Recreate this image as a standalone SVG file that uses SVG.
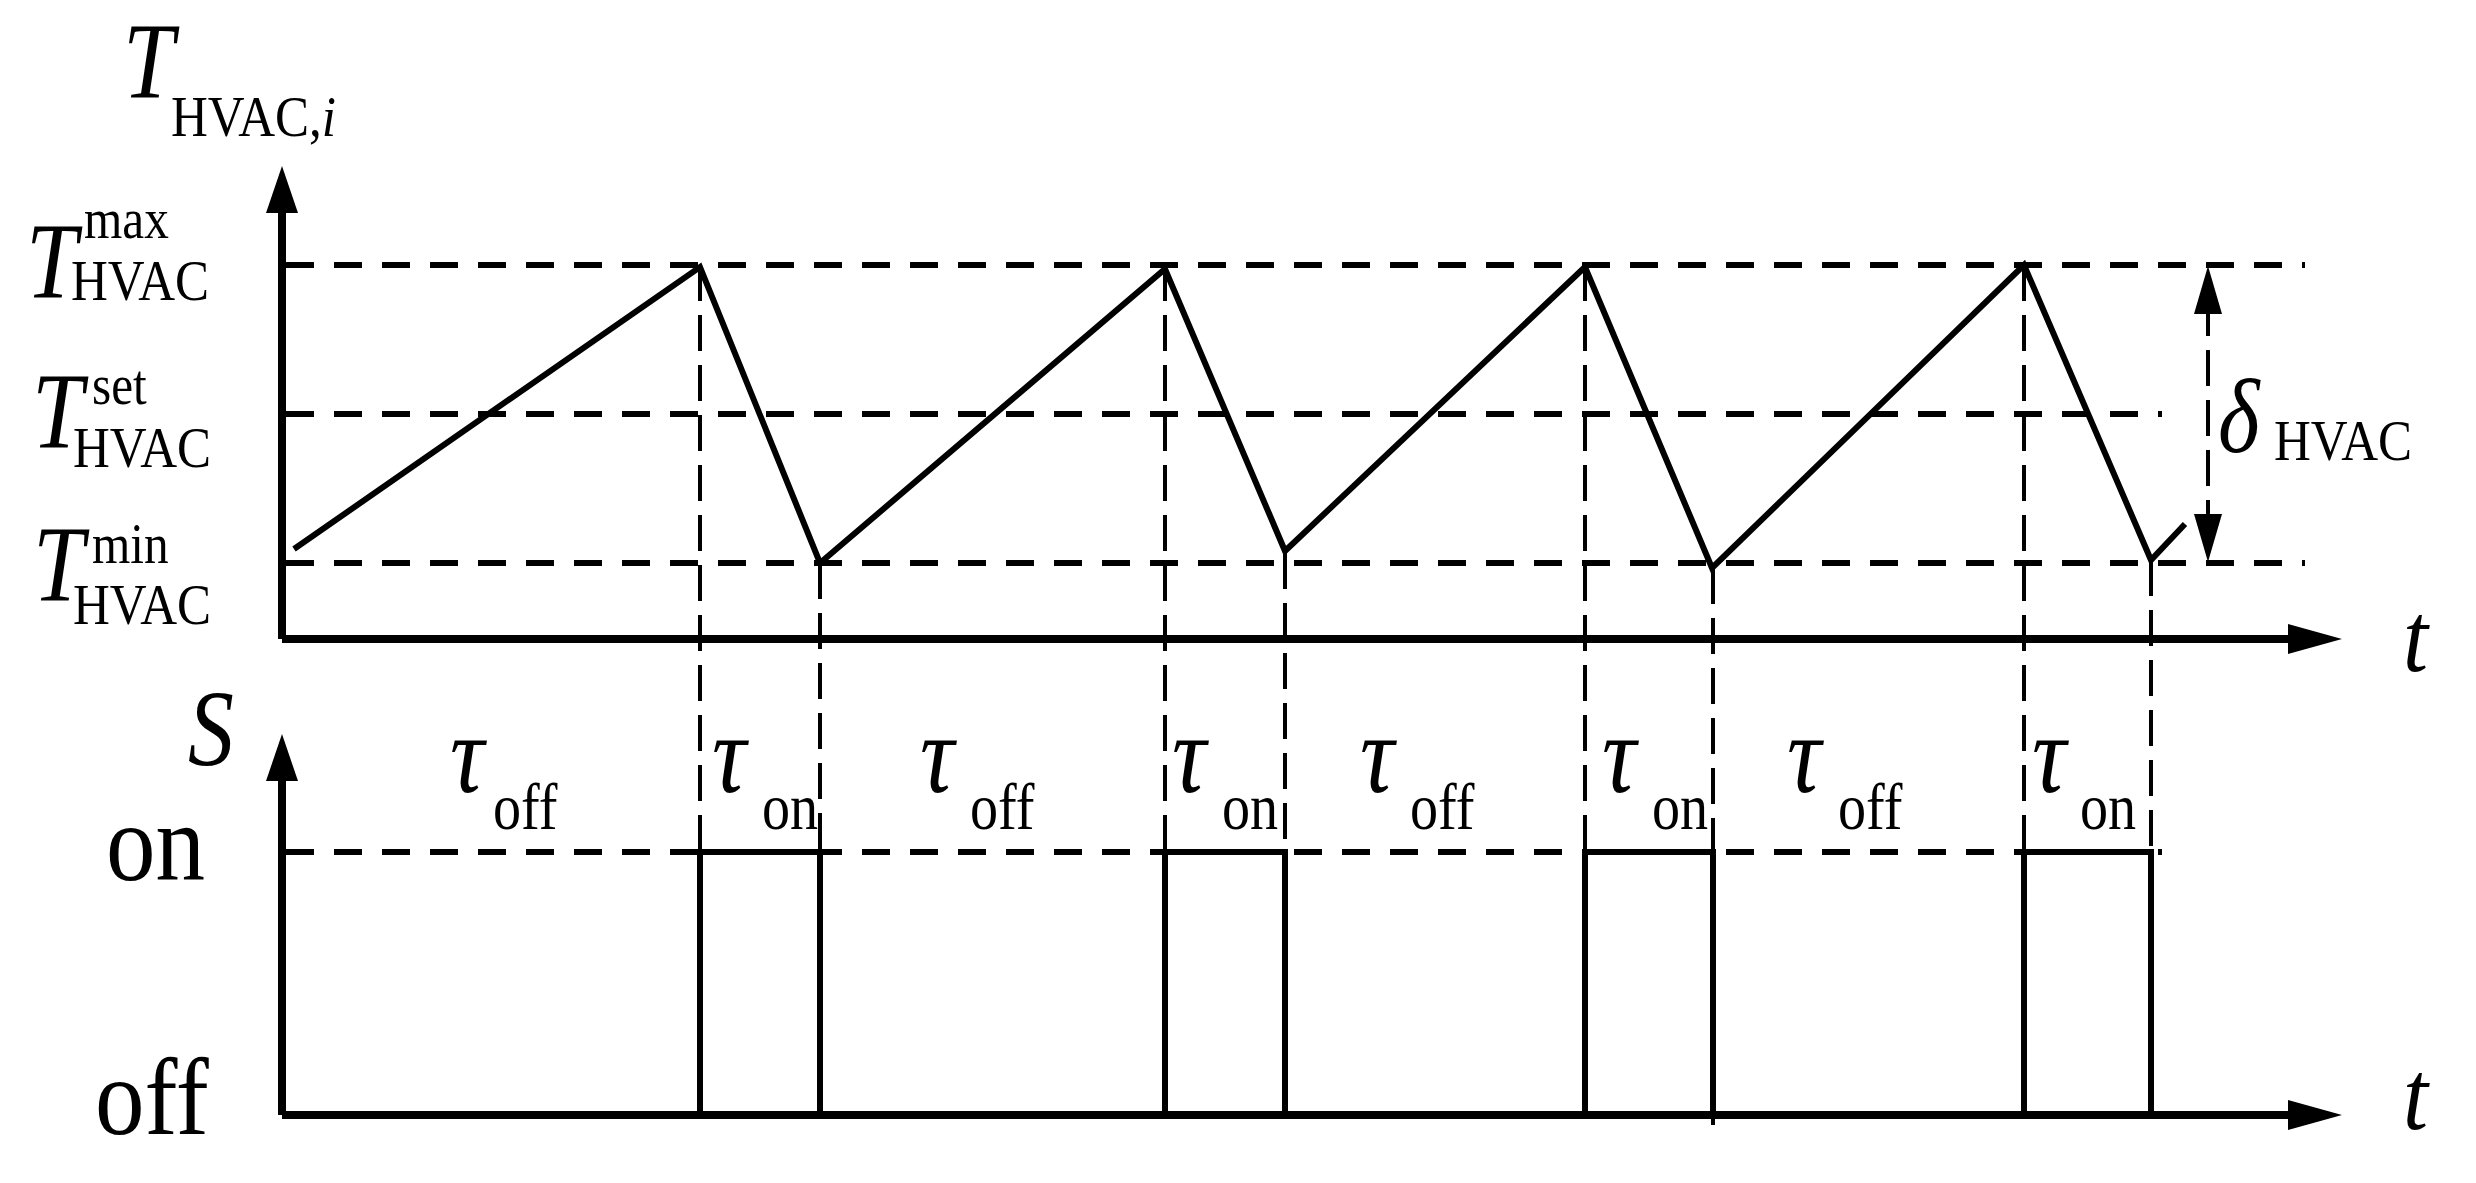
<svg xmlns="http://www.w3.org/2000/svg" width="2476" height="1183" viewBox="0 0 2476 1183">
<style>
text{font-family:"Liberation Serif","Times New Roman",serif;fill:#000}
.it{font-style:italic}
.hd{stroke:#000;stroke-width:6;stroke-dasharray:28 20;fill:none}
.vd{stroke:#000;stroke-width:4;stroke-dasharray:36 14;fill:none}
.sl{stroke:#000;stroke-width:6;fill:none;stroke-linejoin:miter}
.ax{stroke:#000;stroke-width:8;fill:none}
</style>
<rect width="2476" height="1183" fill="#fff"/>
<g id="axes">
<line class="ax" x1="282" y1="639" x2="2295" y2="639"/>
<polygon points="2342,639 2288,624 2288,654"/>
<line class="ax" x1="282" y1="639" x2="282" y2="205"/>
<polygon points="282,166 266,213 298,213"/>
<line class="ax" x1="282" y1="1115" x2="2295" y2="1115"/>
<polygon points="2342,1115 2288,1100 2288,1130"/>
<line class="ax" x1="282" y1="1115" x2="282" y2="772"/>
<polygon points="282,734 266,781 298,781"/>
</g>
<g id="connectors">
<line class="hd" x1="286" y1="265" x2="2305" y2="265"/>
<line class="hd" x1="286" y1="414" x2="2162" y2="414"/>
<line class="hd" x1="286" y1="563" x2="2305" y2="563"/>
<line class="hd" x1="286" y1="852" x2="2162" y2="852"/>
<line class="vd" x1="700" y1="265" x2="700" y2="852"/>
<line class="vd" x1="820" y1="563" x2="820" y2="852"/>
<line class="vd" x1="1165" y1="265" x2="1165" y2="852"/>
<line class="vd" x1="1285" y1="553" x2="1285" y2="852"/>
<line class="vd" x1="1585" y1="265" x2="1585" y2="852"/>
<line class="vd" x1="1713" y1="568" x2="1713" y2="1125"/>
<line class="vd" x1="2024" y1="265" x2="2024" y2="852"/>
<line class="vd" x1="2151" y1="560" x2="2151" y2="852"/>
<polyline class="sl" points="294,549 700,267 820,563 1165,269 1285,551 1585,267 1712,568 2024,265 2151,560 2185,524"/>
<polyline class="sl" points="282,1115 700,1115 700,852 820,852 820,1115 1165,1115 1165,852 1285,852 1285,1115 1585,1115 1585,852 1713,852 1713,1115 2024,1115 2024,852 2151,852 2151,1115"/>
<line class="vd" x1="2208" y1="300" x2="2208" y2="528"/>
<polygon points="2208,266 2194,314 2222,314"/>
<polygon points="2208,562 2194,514 2222,514"/>
</g>
<g id="labels">
<text transform="translate(123,97) scale(0.85 1)" class="it" font-size="108">T</text><text transform="translate(171,136) scale(0.88 1)" font-size="58">HVAC,<tspan class="it">i</tspan></text>
<text transform="translate(26,297) scale(0.85 1)" class="it" font-size="108">T</text><text transform="translate(71,300) scale(0.88 1)" font-size="58">HVAC</text><text transform="translate(84,238) scale(0.88 1)" font-size="56">max</text>
<text transform="translate(32,447) scale(0.85 1)" class="it" font-size="108">T</text><text transform="translate(73,467) scale(0.88 1)" font-size="58">HVAC</text><text transform="translate(92,404) scale(0.88 1)" font-size="56">set</text>
<text transform="translate(33,600) scale(0.85 1)" class="it" font-size="108">T</text><text transform="translate(73,624) scale(0.88 1)" font-size="58">HVAC</text><text transform="translate(92,563) scale(0.88 1)" font-size="56">min</text>
<text transform="translate(2218,452) scale(0.85 1)" class="it" font-size="105">δ</text><text transform="translate(2274,460) scale(0.88 1)" font-size="58">HVAC</text>
<text transform="translate(2403,671) scale(0.9 1)" class="it" font-size="100">t</text>
<text transform="translate(2403,1129) scale(0.9 1)" class="it" font-size="100">t</text>
<text transform="translate(188,765) scale(0.85 1)" class="it" font-size="108">S</text>
<text transform="translate(106,880) scale(0.9 1)" font-size="110">on</text>
<text transform="translate(95,1134) scale(0.9 1)" font-size="110">off</text>
<g font-size="112" class="it">
<text transform="translate(450,792) scale(0.85 1)">τ</text><text transform="translate(712,792) scale(0.85 1)">τ</text><text transform="translate(920,792) scale(0.85 1)">τ</text><text transform="translate(1172,792) scale(0.85 1)">τ</text>
<text transform="translate(1360,792) scale(0.85 1)">τ</text><text transform="translate(1602,792) scale(0.85 1)">τ</text><text transform="translate(1787,792) scale(0.85 1)">τ</text><text transform="translate(2032,792) scale(0.85 1)">τ</text>
</g>
<g font-size="66">
<text transform="translate(493,829) scale(0.85 1)">off</text><text transform="translate(762,829) scale(0.85 1)">on</text><text transform="translate(970,829) scale(0.85 1)">off</text><text transform="translate(1222,829) scale(0.85 1)">on</text>
<text transform="translate(1410,829) scale(0.85 1)">off</text><text transform="translate(1652,829) scale(0.85 1)">on</text><text transform="translate(1838,829) scale(0.85 1)">off</text><text transform="translate(2080,829) scale(0.85 1)">on</text>
</g>
</g>
</svg>
